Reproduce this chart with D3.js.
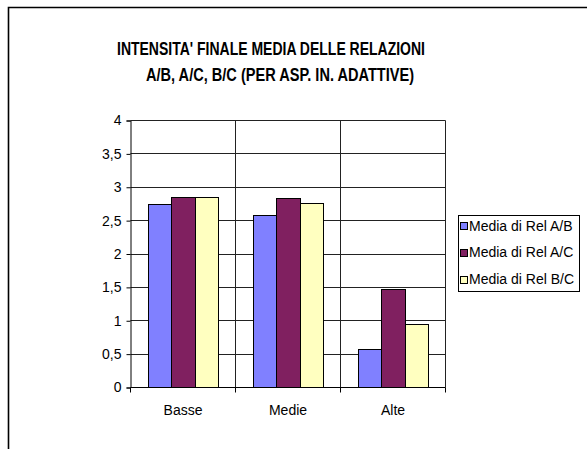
<!DOCTYPE html>
<html>
<head>
<meta charset="utf-8">
<script src="https://cdn.jsdelivr.net/npm/d3@7"></script>
<style>
  html, body { margin: 0; padding: 0; background: #fff; }
  svg { display: block; }
  text { font-family: Arial, "Liberation Sans", sans-serif; fill: #000; }
</style>
</head>
<body>
<script>
// Chart data
const categories = ["Basse", "Medie", "Alte"];
const seriesNames = ["Media di Rel A/B", "Media di Rel A/C", "Media di Rel B/C"];
const relAB = [2.74, 2.58, 0.57];
const relAC = [2.85, 2.83, 1.47];
const relBC = [2.85, 2.76, 0.95];
const seriesColors = ["#8080FF", "#802060", "#FFFFC0"];
const yTicks = [0, 0.5, 1, 1.5, 2, 2.5, 3, 3.5, 4];
const titleLines = ["INTENSITA' FINALE MEDIA DELLE RELAZIONI", "A/B, A/C, B/C (PER ASP. IN. ADATTIVE)"];

const seriesValues = [relAB, relAC, relBC];

const W = 587, H = 449;
const svg = d3.select("body").append("svg").attr("width", W).attr("height", H);

svg.append("rect").attr("width", W).attr("height", H).attr("fill", "#fff");

// chart area frame (runs off the right and bottom edges)
svg.append("path")
  .attr("d", `M8.5,${H + 5} V7.5 H${W + 5}`)
  .attr("fill", "none").attr("stroke", "#000").attr("stroke-width", 1.6);

// title: two condensed bold lines
const titleLayout = [
  { x: 271, y: 55, len: 308 },
  { x: 280, y: 81, len: 268 }
];
const title = svg.append("g").attr("font-weight", "bold");
titleLines.forEach((t, i) => {
  const L = titleLayout[i];
  title.append("text")
    .attr("x", L.x - L.len / 2).attr("y", L.y)
    .attr("font-size", 18)
    .attr("textLength", L.len)
    .attr("lengthAdjust", "spacingAndGlyphs")
    .text(t);
});

// plot area
const pLeft = 130.5, pRight = 445.5, pTop = 120.5, pBottom = 387.5;

const x = d3.scaleBand().domain(categories).range([pLeft, pRight]).padding(0);
const xs = d3.scaleBand().domain(d3.range(seriesNames.length))
  .range([0, x.bandwidth()]).paddingInner(0).paddingOuter(0.75);
const y = d3.scaleLinear().domain([0, 4]).range([pBottom, pTop]);

const grid = svg.append("g").attr("stroke", "#222").attr("stroke-width", 1);
// horizontal gridlines
grid.selectAll("line.h").data(yTicks.filter(d => d > 0)).join("line")
  .attr("x1", pLeft).attr("x2", pRight)
  .attr("y1", d => Math.floor(y(d)) + 0.5).attr("y2", d => Math.floor(y(d)) + 0.5);
// vertical gridlines at category boundaries
const bounds = categories.map(c => x(c) + x.bandwidth());
grid.selectAll("line.v").data(bounds).join("line")
  .attr("x1", d => Math.floor(d) + 0.5).attr("x2", d => Math.floor(d) + 0.5)
  .attr("y1", pTop).attr("y2", pBottom);

// bars
const flat = [];
categories.forEach((c, ci) => {
  seriesValues.forEach((vals, si) => flat.push({ c, si, v: vals[ci] }));
});
svg.append("g").selectAll("rect").data(flat).join("rect")
  .attr("x", d => Math.round(x(d.c) + xs(d.si)) + 0.5)
  .attr("width", d => Math.round(x(d.c) + xs(d.si) + xs.bandwidth()) - Math.round(x(d.c) + xs(d.si)))
  .attr("y", d => Math.floor(y(d.v)) + 0.5)
  .attr("height", d => Math.floor(pBottom) - Math.floor(y(d.v)))
  .attr("fill", d => seriesColors[d.si])
  .attr("stroke", "#000").attr("stroke-width", 1);

// y axis
const yAxis = svg.append("g").attr("transform", `translate(${pLeft},0)`)
  .call(d3.axisLeft(y).tickValues(yTicks).tickSize(4).tickPadding(5)
    .tickFormat(d => d3.format("")(d).replace(".", ",")));
yAxis.select(".domain").attr("stroke", "#000");
yAxis.selectAll(".tick line").attr("stroke", "#000");
yAxis.selectAll("text").attr("font-size", 14).attr("font-family", "Arial, 'Liberation Sans', sans-serif");

// x axis
const xAxis = svg.append("g").attr("transform", `translate(0,${pBottom})`)
  .call(d3.axisBottom(x).tickSize(0).tickPadding(18));
xAxis.select(".domain").attr("stroke", "#000").attr("d", `M${pLeft},0H${pRight}`);
xAxis.selectAll("text").attr("font-size", 14).attr("font-family", "Arial, 'Liberation Sans', sans-serif");
svg.append("g").attr("stroke", "#000").selectAll("line")
  .data([pLeft].concat(bounds)).join("line")
  .attr("x1", d => Math.floor(d) + 0.5).attr("x2", d => Math.floor(d) + 0.5)
  .attr("y1", pBottom).attr("y2", pBottom + 5);

// legend
const lg = svg.append("g");
lg.append("rect").attr("x", 458.5).attr("y", 215.5).attr("width", 121).attr("height", 76)
  .attr("fill", "#fff").attr("stroke", "#000").attr("stroke-width", 1);
seriesNames.forEach((n, i) => {
  const cy = 225.5 + i * 26.75;
  lg.append("rect").attr("x", 460.5).attr("y", Math.round(cy - 3.5) + 0.5)
    .attr("width", 7).attr("height", 7)
    .attr("fill", seriesColors[i]).attr("stroke", "#000").attr("stroke-width", 1);
  lg.append("text").attr("x", 469).attr("y", cy + 5).attr("font-size", 14).text(n);
});
</script>
</body>
</html>
